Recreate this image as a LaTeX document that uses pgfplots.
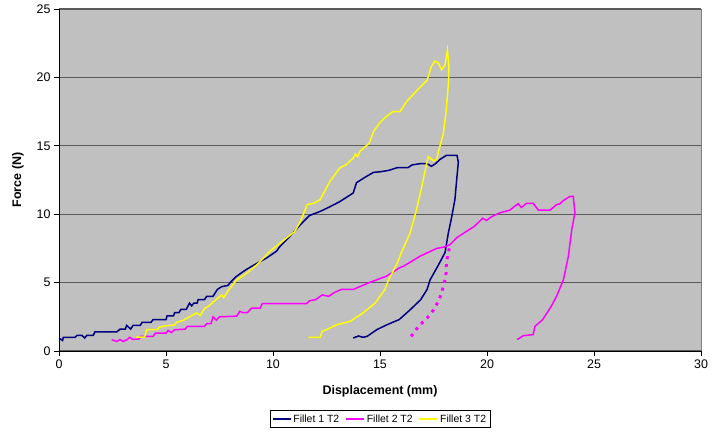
\documentclass[border=0pt]{standalone}
\usepackage{fontspec}
\setmainfont{Liberation Sans}
\usepackage{pgfplots}
\pgfplotsset{compat=1.18}
\definecolor{plotbg}{HTML}{C0C0C0}
\definecolor{gridc}{HTML}{5A5A5A}
\definecolor{fa}{HTML}{000080}
\definecolor{fb}{HTML}{FF00FF}
\definecolor{fc}{HTML}{FFFF00}
\begin{document}
\begin{tikzpicture}
\path[use as bounding box] (-59bp,-82bp) rectangle (666bp,351bp);
\begin{axis}[
  scale only axis, width=642bp, height=342bp,
  xmin=0, xmax=30, ymin=0, ymax=25,
  xtick={0,5,...,30}, ytick={0,5,...,25},
  axis x line*=bottom, axis y line*=left,
  axis line style={-, black, line width=0.9bp},
  tick align=outside, major tick length=5bp,
  tick style={black, line width=0.9bp},
  ymajorgrids, major grid style={gridc, line width=1.2bp},
  axis background/.style={fill=plotbg},
  /pgf/number format/assume math mode=true,
  ticklabel style={font=\fontsize{12.5}{14}\selectfont},
  xlabel={Displacement (mm)}, ylabel={Force (N)},
  label style={font=\fontsize{12.5}{14}\selectfont\bfseries},
  xlabel style={at={(axis description cs:0.5,-0.117)}, anchor=center},
  ylabel style={at={(axis description cs:-0.064,0.5)}, anchor=center},
  legend columns=3,
  legend style={at={(0.5,-0.199)}, anchor=center, draw=black, fill=white,
    font=\fontsize{10.5}{12}\selectfont, inner sep=2bp,
    /tikz/every even column/.append style={column sep=4bp}},
  legend image code/.code={\draw[#1] (0bp,0bp) -- (18bp,0bp);},
  every axis plot/.append style={line width=1.5bp},
  after end axis/.code={\draw[gray, line width=0.8bp] (rel axis cs:1,0) -- (rel axis cs:1,1);},
]
\addplot[fa] coordinates {
(0,0.95)(0.17,0.77)(0.2,1.0)(0.75,1.0)(0.84,1.14)(1.07,1.14)(1.2,0.95)(1.3,1.14)(1.6,1.14)
(1.68,1.39)(2.7,1.39)(2.85,1.6)(3.1,1.6)(3.16,1.87)(3.35,1.6)(3.46,1.87)(3.8,1.87)(3.88,2.1)
(4.3,2.1)(4.4,2.3)(5.0,2.3)(5.05,2.56)(5.35,2.56)(5.4,2.8)(5.6,2.8)(5.7,3.05)(5.95,3.05)
(6.1,3.5)(6.2,3.3)(6.3,3.5)(6.45,3.5)(6.5,3.75)(6.8,3.75)(6.9,4.0)(7.2,4.0)(7.4,4.5)(7.6,4.7)
(7.9,4.8)(8.0,5.0)(8.25,5.4)(8.6,5.8)(8.8,6.0)(9.24,6.4)(9.7,6.8)(10.17,7.3)(10.3,7.6)
(10.8,8.4)(11.26,9.2)(11.7,9.9)(12.2,10.2)(12.6,10.5)(13.1,10.9)(13.5,11.3)(13.75,11.55)
(13.9,12.3)(14.3,12.7)(14.7,13.06)(15.0,13.1)(15.4,13.2)(15.8,13.4)(16.3,13.4)(16.5,13.6)
(16.9,13.7)(17.2,13.7)(17.4,13.5)(17.6,13.7)(17.8,14.0)(18.1,14.3)(18.6,14.3)(18.66,13.8)
(18.6,12.8)(18.5,11.06)(18.35,9.8)(18.19,8.6)(18.04,7.2)(17.7,6.2)(17.34,5.2)(17.2,4.5)
(16.9,3.75)(16.4,3.0)(15.9,2.3)(15.3,1.9)(14.85,1.56)(14.4,1.07)(14.2,1.0)(14.0,1.1)(13.75,0.95)
};
\addlegendentry{Fillet 1 T2}
\addplot[fb] coordinates {
(2.46,0.83)(2.7,0.7)(2.85,0.83)(3.0,0.7)(3.2,0.85)(3.3,1.0)(3.45,0.85)(3.75,0.88)(3.8,1.07)
(4.4,1.07)(4.5,1.3)(5.0,1.3)(5.1,1.5)(5.25,1.35)(5.4,1.55)(5.9,1.6)(6.0,1.8)(6.8,1.8)(6.9,2.0)
(7.1,2.0)(7.2,2.5)(7.35,2.25)(7.5,2.5)(8.3,2.55)(8.45,2.9)(8.6,2.8)(8.8,2.8)(9.0,3.14)
(9.4,3.14)(9.5,3.46)(11.57,3.46)(11.7,3.66)(12.0,3.76)(12.3,4.1)(12.6,4.0)(12.9,4.3)(13.2,4.5)
(13.75,4.5)(14.5,5.0)(15.3,5.47)(15.9,6.07)(16.1,6.2)(16.9,6.95)(17.65,7.5)(18.0,7.6)
(18.27,7.77)(18.6,8.3)(19.05,8.75)(19.4,9.1)(19.8,9.7)(19.98,9.55)(20.2,9.8)(20.6,10.1)
(21.07,10.3)(21.46,10.77)(21.6,10.5)(21.7,10.6)(21.85,10.8)(22.16,10.8)(22.4,10.3)(22.94,10.3)
(23.1,10.5)(23.25,10.7)(23.4,10.75)(23.57,11.0)(23.88,11.3)(24.03,11.3)(24.11,10.1)
(23.96,8.87)(23.8,6.9)(23.57,5.2)(23.25,4.0)(23.0,3.26)(22.6,2.29)(22.24,1.8)(22.16,1.2)
(21.7,1.12)(21.46,0.88)(21.4,0.85)
};
\addlegendentry{Fillet 2 T2}
\addplot[fc] coordinates {
(3.6,1.02)(4.0,1.02)(4.1,1.56)(4.6,1.56)(4.7,1.75)(5.03,1.85)(5.4,1.9)(5.5,2.1)(5.8,2.24)
(6.1,2.5)(6.43,2.78)(6.6,2.6)(6.8,3.1)(7.0,3.3)(7.37,3.8)(7.6,4.1)(7.7,3.9)(7.9,4.4)(8.3,5.2)
(8.7,5.6)(9.24,6.3)(9.5,6.7)(9.86,7.3)(10.5,8.1)(11.0,8.7)(11.26,9.4)(11.6,10.7)(11.9,10.8)
(12.2,11.06)(12.66,12.4)(13.13,13.4)(13.4,13.6)(13.75,14.1)(13.85,14.4)(13.95,14.2)(14.07,14.6)
(14.5,15.2)(14.7,16.05)(15.0,16.7)(15.3,17.15)(15.6,17.5)(15.93,17.5)(16.25,18.25)(16.7,19.0)
(17.2,19.8)(17.4,20.8)(17.57,21.2)(17.72,21.05)(17.88,20.56)(18.04,20.9)(18.15,22.0)
(18.22,20.8)(18.2,19.6)(18.08,17.4)(17.96,15.9)(17.72,14.5)(17.65,14.0)(17.5,13.9)(17.26,14.2)
(17.18,13.7)(16.95,12.0)(16.7,10.3)(16.4,8.6)(16.0,7.2)(15.8,6.4)(15.4,5.2)(15.23,4.5)
(14.77,3.5)(14.2,2.78)(13.6,2.16)(12.98,1.92)(12.5,1.56)(12.3,1.43)(12.2,1.0)(11.65,1.0)
};
\addlegendentry{Fillet 3 T2}
\addplot[fb, line width=3bp, dash pattern=on 3bp off 5bp, forget plot] coordinates {
(18.24,7.5)(18.17,7.07)(18.1,6.4)(18.08,5.45)(17.96,4.7)(17.77,3.75)(17.5,3.0)(17.2,2.4)
(16.8,1.8)(16.37,0.88)
};
\end{axis}
\end{tikzpicture}
\end{document}
